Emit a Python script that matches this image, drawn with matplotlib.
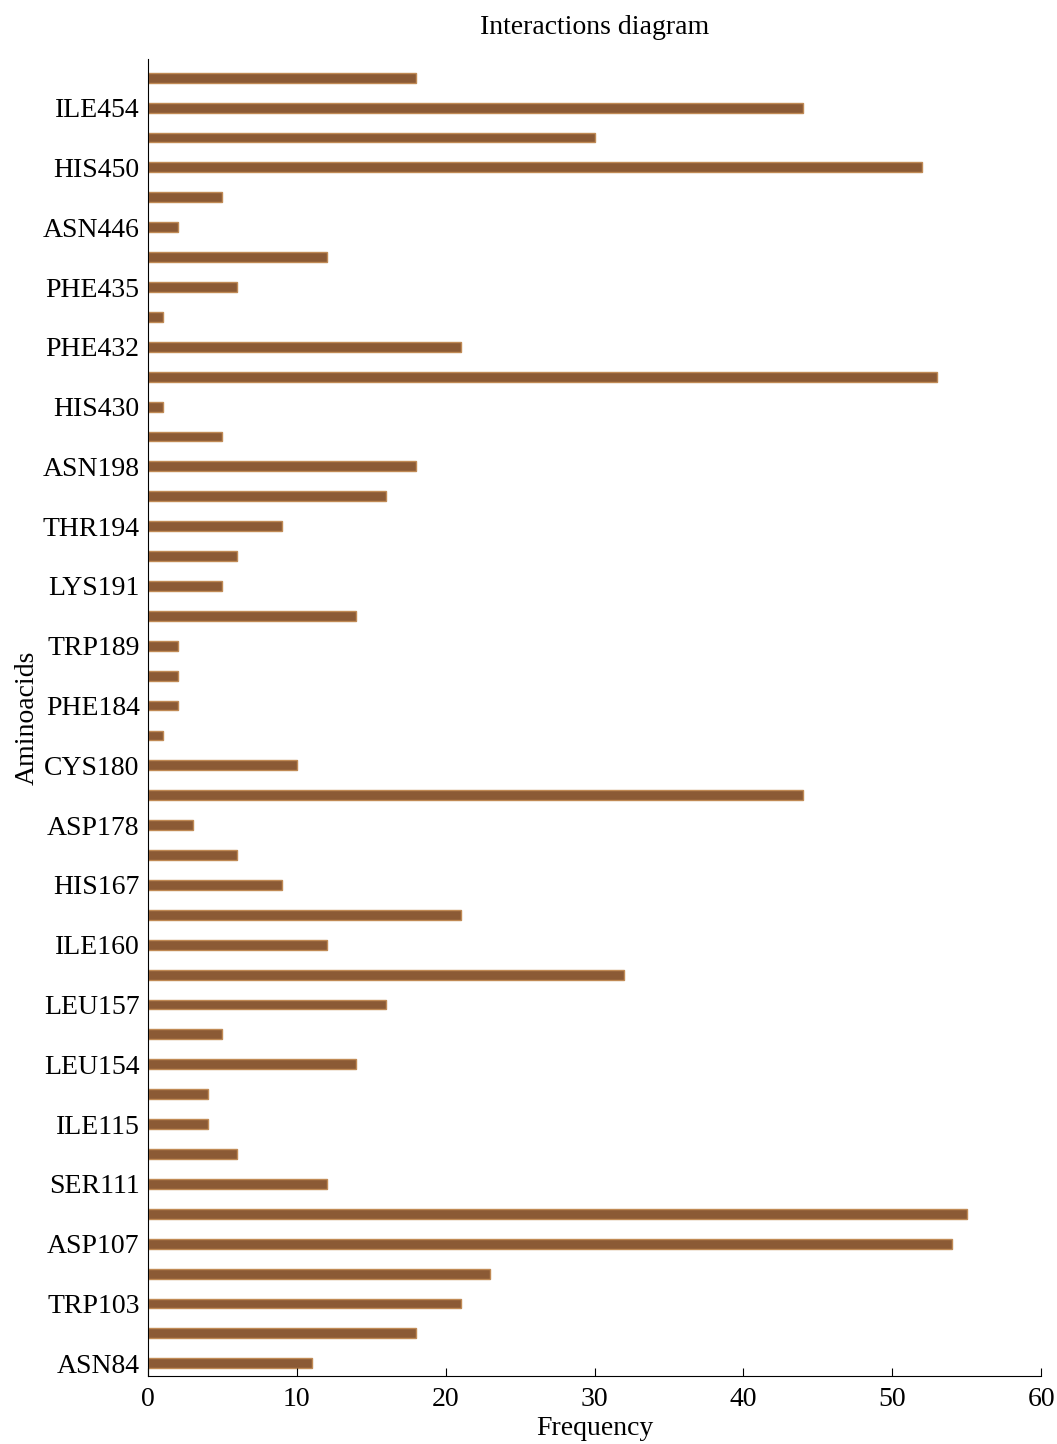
import matplotlib
matplotlib.use("Agg")
import matplotlib.pyplot as plt
import numpy as np

# bottom to top; unlabeled bars have empty names
residues = ["ASN84", "", "TRP103", "", "ASP107", "", "SER111", "", "ILE115", "",
            "LEU154", "", "LEU157", "", "ILE160", "", "HIS167", "", "ASP178", "",
            "CYS180", "", "PHE184", "", "TRP189", "", "LYS191", "", "THR194", "",
            "ASN198", "", "HIS430", "", "PHE432", "", "PHE435", "", "ASN446", "",
            "HIS450", "", "ILE454", ""]
frequency = [11, 18, 21, 23, 54, 55, 12, 6, 4, 4,
             14, 5, 16, 32, 12, 21, 9, 6, 3, 44,
             10, 1, 2, 2, 2, 14, 5, 6, 9, 16,
             18, 5, 1, 53, 21, 1, 6, 12, 2, 5,
             52, 30, 44, 18]

plt.rcParams['font.family'] = ['Liberation Serif', 'DejaVu Serif']

fig = plt.figure(figsize=(10.57, 14.44), dpi=100)
ax = fig.add_axes([0.140, 0.047, 0.845, 0.912])

y = np.arange(len(frequency))
ax.barh(y, frequency, height=0.33, color="#8B5A35", edgecolor="#C08A55", linewidth=1)

labeled = [i for i, r in enumerate(residues) if r]
ax.set_yticks(labeled)
ax.set_yticklabels([residues[i] for i in labeled], fontsize=20)
ax.tick_params(axis="y", length=0, pad=6)
ax.tick_params(axis="x", direction="in", length=6, labelsize=20, pad=8)

ax.set_xlim(0, 60)
ax.set_ylim(-0.43, 43.62)
ax.set_xticks([0, 10, 20, 30, 40, 50, 60])

ax.spines["top"].set_visible(False)
ax.spines["right"].set_visible(False)

ax.set_xlabel("Frequency", fontsize=20, labelpad=3)
ax.set_ylabel("Aminoacids", fontsize=20, labelpad=2)
ax.set_title("Interactions diagram", fontsize=20, pad=18)

fig.savefig("out.png", dpi=100)
